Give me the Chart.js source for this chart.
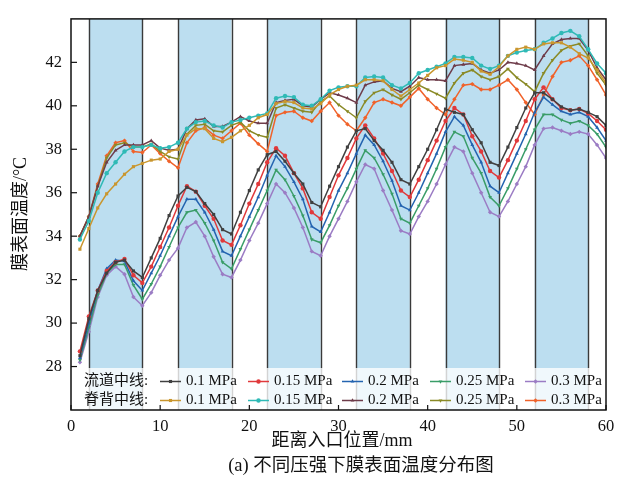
<!DOCTYPE html>
<html lang="zh">
<head>
<meta charset="UTF-8">
<title>膜表面温度分布</title>
<script src="https://cdn.jsdelivr.net/npm/chart.js@4.4.0/dist/chart.umd.min.js"></script>
<style>
  html, body { margin: 0; padding: 0; background: #fff; }
  #wrap { width: 624px; height: 477px; }
</style>
</head>
<body>
<div id="wrap"><canvas id="tempChart" width="624" height="477"></canvas></div>
<script>
// 测点位置 (mm)
var positions = [1, 2, 3, 4, 5, 6, 7, 8, 9, 10, 11, 12, 13, 14, 15, 16, 17, 18, 19, 20,
  21, 22, 23, 24, 25, 26, 27, 28, 29, 30, 31, 32, 33, 34, 35, 36, 37, 38, 39, 40,
  41, 42, 43, 44, 45, 46, 47, 48, 49, 50, 51, 52, 53, 54, 55, 56, 57, 58, 59, 60];

// 流道区域 (蓝色底)
var bandStarts = [2, 12, 22, 32, 42, 52];
var bandEnds = [8, 18, 28, 38, 48, 58];

var xTicks = [0, 10, 20, 30, 40, 50, 60];
var yTicks = [28, 30, 32, 34, 36, 38, 40, 42];
var pressures = ['0.1 MPa', '0.15 MPa', '0.2 MPa', '0.25 MPa', '0.3 MPa'];

// 流道中线
var channel01 = [28.5, 30.2, 31.5, 32.3, 32.8, 32.9, 32.4, 32.1,
  33.0, 33.9, 34.95, 35.85, 36.25, 36.05, 35.5, 35.0, 34.3, 34.1,
  35.1, 36.1, 37.05, 37.75, 37.9, 37.45, 36.9, 36.4, 35.55, 35.35,
  36.3, 37.2, 38.1, 38.85, 38.95, 38.4, 37.95, 37.4, 36.6, 36.4,
  37.2, 38.0, 38.9, 39.85, 39.7, 39.6, 38.9, 38.3, 37.4, 37.25,
  38.1, 39.0, 39.9, 40.6, 40.6, 40.3, 39.95, 39.8, 39.85, 39.7, 39.5, 39.1];
var channel015 = [28.7, 30.3, 31.5, 32.4, 32.8, 32.95, 32.2, 31.85,
  32.6, 33.5, 34.4, 35.4, 36.3, 36.05, 35.4, 34.8, 33.8, 33.6,
  34.5, 35.5, 36.4, 37.4, 38.05, 37.7, 36.9, 36.2, 35.1, 34.8,
  35.8, 36.8, 37.6, 38.5, 39.1, 38.5, 37.8, 37.0, 36.1, 35.8,
  36.6, 37.5, 38.4, 39.3, 39.9, 39.6, 38.6, 37.9, 37.0, 36.7,
  37.5, 38.4, 39.3, 40.3, 40.85, 40.3, 39.9, 39.8, 39.85, 39.65, 39.3, 38.9];
var channel02 = [28.4, 30.0, 31.5, 32.5, 32.9, 32.85, 31.95, 31.5,
  32.3, 33.1, 34.0, 34.9, 35.7, 35.7, 35.1, 34.3, 33.3, 33.1,
  34.0, 34.9, 35.8, 36.8, 37.7, 37.2, 36.5, 35.7, 34.45, 34.2,
  35.1, 36.1, 36.9, 37.8, 38.65, 38.2, 37.45, 36.55, 35.4, 35.2,
  36.0, 36.9, 37.8, 38.8, 39.5, 39.1, 38.2, 37.4, 36.3, 36.0,
  36.9, 37.8, 38.7, 39.7, 40.4, 40.05, 39.75, 39.6, 39.7, 39.5, 39.0, 38.4];
var channel025 = [28.3, 29.8, 31.3, 32.3, 32.7, 32.7, 31.75, 31.1,
  31.8, 32.6, 33.5, 34.4, 35.1, 35.2, 34.6, 33.8, 32.8, 32.5,
  33.4, 34.3, 35.2, 36.1, 37.05, 36.6, 35.85, 34.95, 33.85, 33.7,
  34.5, 35.4, 36.2, 37.1, 37.95, 37.6, 36.85, 35.95, 34.8, 34.6,
  35.4, 36.2, 37.1, 38.1, 38.8, 38.6, 37.6, 36.9, 35.8, 35.4,
  36.2, 37.1, 38.0, 38.9, 39.6, 39.6, 39.35, 39.2, 39.3, 39.1, 38.7, 38.1];
var channel03 = [28.2, 29.6, 31.2, 32.2, 32.6, 32.25, 31.2, 30.8,
  31.4, 32.2, 32.9, 33.45, 34.4, 34.65, 34.0, 33.05, 32.25, 32.1,
  32.9, 33.8, 34.6, 35.5, 36.4, 36.0, 35.3, 34.4, 33.3, 33.1,
  34.0, 34.8, 35.6, 36.5, 37.3, 37.1, 36.1, 35.2, 34.25, 34.1,
  34.9, 35.6, 36.4, 37.3, 38.1, 37.9, 36.9, 36.0, 35.1, 34.9,
  35.6, 36.4, 37.2, 38.2, 38.95, 39.0, 38.85, 38.7, 38.8, 38.7, 38.2, 37.6];

// 脊背中线
var ridge01 = [33.4, 34.35, 35.3, 35.95, 36.4, 36.85, 37.2, 37.35, 37.5, 37.55, 37.9, 38.0,
  38.65, 38.95, 38.95, 38.5, 38.35, 38.55, 38.85, 39.1, 39.45, 39.6,
  40.1, 40.2, 40.15, 39.9, 39.85, 40.1, 40.5, 40.75, 40.9, 40.95,
  41.2, 41.2, 41.15, 40.75, 40.45, 40.75, 41.05, 41.4, 41.75, 41.85,
  42.15, 42.1, 42.0, 41.6, 41.45, 41.8, 42.3, 42.6, 42.7, 42.6,
  42.85, 42.9, 42.9, 42.7, 42.4, 42.2, 41.65, 41.05];
var ridge015 = [33.85, 34.7, 36.0, 36.9, 37.4, 37.9, 38.1, 38.1, 38.2, 38.05, 38.1, 38.3,
  38.95, 39.25, 39.3, 39.1, 39.0, 39.25, 39.35, 39.45, 39.55, 39.65,
  40.35, 40.45, 40.4, 40.05, 40.0, 40.3, 40.7, 40.85, 40.9, 40.9,
  41.3, 41.35, 41.3, 40.95, 40.8, 41.05, 41.5, 41.65, 41.8, 41.95,
  42.25, 42.25, 42.2, 41.85, 41.7, 41.85, 42.3, 42.45, 42.55, 42.6,
  42.9, 43.1, 43.35, 43.45, 43.2, 42.6, 41.95, 41.5];
var ridge02 = [34.0, 34.9, 36.3, 37.4, 37.95, 38.2, 38.2, 38.2, 38.4, 38.05, 37.95, 38.0,
  38.95, 39.35, 39.4, 39.05, 39.05, 39.25, 39.5, 39.3, 39.2, 39.2,
  40.15, 40.25, 40.3, 40.0, 39.95, 40.3, 40.6, 40.5, 40.35, 40.15,
  40.95, 41.1, 41.15, 40.8, 40.65, 40.9, 41.3, 41.2, 41.2, 41.15,
  41.85, 41.9, 41.95, 41.65, 41.5, 41.65, 42.0, 41.95, 41.85, 41.65,
  42.3, 42.85, 43.05, 43.1, 43.1, 42.55, 41.75, 41.2];
var ridge025 = [34.0, 34.9, 36.3, 37.6, 38.2, 38.3, 38.1, 38.1, 38.25, 37.9, 37.65, 37.55,
  38.7, 39.1, 39.15, 38.85, 38.8, 39.1, 39.25, 38.85, 38.65, 38.55,
  39.9, 40.05, 39.9, 39.75, 39.7, 40.2, 40.45, 40.05, 39.75, 39.45,
  40.2, 40.6, 40.75, 40.5, 40.3, 40.6, 40.95, 40.75, 40.55, 40.35,
  41.05, 41.5, 41.65, 41.35, 41.2, 41.35, 41.7, 41.3, 41.0, 40.65,
  41.5, 42.1, 42.55, 42.75, 42.85, 42.3, 41.5, 40.95];
var ridge03 = [34.0, 34.9, 36.4, 37.7, 38.3, 38.4, 37.9, 37.85, 38.2, 37.8, 37.45, 37.15,
  38.3, 38.85, 39.0, 38.65, 38.5, 38.85, 39.2, 38.65, 38.25, 37.9,
  39.55, 39.7, 39.75, 39.45, 39.3, 39.75, 40.15, 39.55, 39.15, 38.85,
  39.45, 40.15, 40.3, 40.15, 40.0, 40.4, 40.8, 40.3, 39.9, 39.6,
  40.3, 40.95, 41.0, 40.75, 40.75, 40.95, 41.2, 40.75, 40.15, 39.6,
  40.5, 41.35, 42.0, 42.1, 42.3, 41.85, 41.2, 40.5];

var FONT = "'Liberation Serif', 'Noto Sans CJK SC', serif";

function series(label, group, vals, color, style, rot) {
  return {
    label: label,
    group: group,
    data: positions.map(function (x, i) { return { x: x, y: vals[i] }; }),
    borderColor: color,
    backgroundColor: color,
    borderWidth: 1.5,
    pointRadius: 2.2,
    pointBorderWidth: 0,
    pointStyle: style,
    pointRotation: rot || 0,
    tension: 0
  };
}

var datasets = [
  series(pressures[0], 0, channel01, '#404040', 'rect'),
  series(pressures[1], 0, channel015, '#e0393b', 'circle'),
  series(pressures[2], 0, channel02, '#2464b0', 'triangle'),
  series(pressures[3], 0, channel025, '#3a9d68', 'triangle', 180),
  series(pressures[4], 0, channel03, '#9b7cc4', 'rectRot'),
  series(pressures[0], 1, ridge01, '#c9962e', 'rect'),
  series(pressures[1], 1, ridge015, '#2fbab6', 'circle'),
  series(pressures[2], 1, ridge02, '#6e3c4a', 'triangle'),
  series(pressures[3], 1, ridge025, '#8a8a26', 'triangle', 180),
  series(pressures[4], 1, ridge03, '#f0622a', 'rectRot')
];

var decor = {
  id: 'decor',
  beforeDatasetsDraw: function (chart) {
    var ctx = chart.ctx, a = chart.chartArea, xs = chart.scales.x;
    ctx.save();
    bandStarts.forEach(function (s, i) {
      var x1 = xs.getPixelForValue(s), x2 = xs.getPixelForValue(bandEnds[i]);
      ctx.fillStyle = '#bcdef0';
      ctx.fillRect(x1, a.top, x2 - x1, a.bottom - a.top);
    });
    ctx.strokeStyle = '#3a3a3a';
    ctx.lineWidth = 1.4;
    bandStarts.concat(bandEnds).forEach(function (v) {
      var x = Math.round(xs.getPixelForValue(v)) + 0.5;
      ctx.beginPath();
      ctx.moveTo(x, a.top);
      ctx.lineTo(x, a.bottom);
      ctx.stroke();
    });
    ctx.restore();
  },
  afterDraw: function (chart) {
    var ctx = chart.ctx, a = chart.chartArea, xs = chart.scales.x, ys = chart.scales.y;
    ctx.save();

    // 图例
    ctx.fillStyle = 'rgba(255,255,255,0.78)';
    ctx.fillRect(a.left + 1, 368, a.right - a.left - 2, a.bottom - 368);
    var rowY = [381.5, 400.5];
    var rowNames = ['流道中线:', '脊背中线:'];
    var colX = [160, 248, 342, 430, 525];
    ctx.font = '15px ' + FONT;
    ctx.textBaseline = 'middle';
    ctx.textAlign = 'left';
    rowNames.forEach(function (name, r) {
      ctx.fillStyle = '#111';
      ctx.fillText(name, 84, rowY[r]);
      for (var c = 0; c < 5; c++) {
        var ds = chart.data.datasets[r * 5 + c];
        var x0 = colX[c];
        ctx.strokeStyle = ds.borderColor;
        ctx.lineWidth = 1.5;
        ctx.beginPath();
        ctx.moveTo(x0, rowY[r]);
        ctx.lineTo(x0 + 21, rowY[r]);
        ctx.stroke();
        ctx.fillStyle = ds.borderColor;
        Chart.helpers.drawPoint(ctx, {
          pointStyle: ds.pointStyle, rotation: ds.pointRotation, radius: 2.2, borderWidth: 0
        }, x0 + 10.5, rowY[r]);
        ctx.fillStyle = '#111';
        ctx.fillText(ds.label, x0 + 26, rowY[r]);
      }
    });

    // 坐标框与内向刻度
    ctx.strokeStyle = '#111';
    ctx.lineWidth = 1.5;
    ctx.strokeRect(a.left, a.top, a.right - a.left, a.bottom - a.top);
    ctx.lineWidth = 1.2;
    xTicks.forEach(function (v) {
      var x = xs.getPixelForValue(v);
      ctx.beginPath();
      ctx.moveTo(x, a.bottom);
      ctx.lineTo(x, a.bottom - 5);
      ctx.stroke();
    });
    yTicks.forEach(function (v) {
      var y = ys.getPixelForValue(v);
      ctx.beginPath();
      ctx.moveTo(a.left, y);
      ctx.lineTo(a.left + 6, y);
      ctx.stroke();
    });

    // 坐标轴标题与图注
    ctx.fillStyle = '#111';
    ctx.textAlign = 'center';
    ctx.textBaseline = 'middle';
    ctx.font = '18px ' + FONT;
    ctx.fillText('距离入口位置/mm', 342, 441);
    ctx.font = '18.5px ' + FONT;
    ctx.fillText('(a) 不同压强下膜表面温度分布图', 361, 466);
    ctx.font = '18px ' + FONT;
    ctx.translate(21, 214);
    ctx.rotate(-Math.PI / 2);
    ctx.fillText('膜表面温度/°C', 0, 0);
    ctx.restore();
  }
};

new Chart(document.getElementById('tempChart'), {
  type: 'line',
  data: { datasets: datasets },
  options: {
    responsive: false,
    animation: false,
    devicePixelRatio: 1,
    layout: { padding: { top: 10, right: 18, left: 0, bottom: 0 } },
    plugins: { legend: { display: false }, tooltip: { enabled: false } },
    scales: {
      x: {
        type: 'linear',
        min: 0,
        max: 60,
        grid: { display: false, drawTicks: false },
        border: { display: false },
        afterBuildTicks: function (s) { s.ticks = xTicks.map(function (v) { return { value: v }; }); },
        afterFit: function (s) { s.height = 67; },
        ticks: { padding: 7, color: '#111', font: { family: FONT, size: 16.5 }, maxRotation: 0 }
      },
      y: {
        min: 26,
        max: 44,
        grid: { display: false, drawTicks: false },
        border: { display: false },
        afterBuildTicks: function (s) { s.ticks = yTicks.map(function (v) { return { value: v }; }); },
        afterFit: function (s) { s.width = 71; },
        ticks: { padding: 9, color: '#111', font: { family: FONT, size: 16.5 } }
      }
    }
  },
  plugins: [decor]
});
</script>
</body>
</html>
